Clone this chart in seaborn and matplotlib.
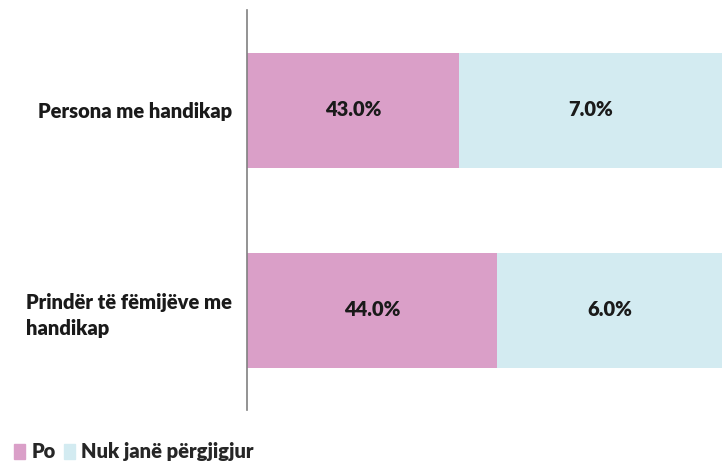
import matplotlib
matplotlib.use("Agg")
import matplotlib.pyplot as plt
from matplotlib.patches import Patch
import pandas as pd
import seaborn as sns

# -----------------------------
# DATA
# -----------------------------
categories = ["Persona me handikap", "Prindër të fëmijëve me\nhandikap"]
po_pct = [43.0, 44.0]          # printed labels
nuk_pct = [7.0, 6.0]
# segment lengths as drawn in the source chart (share of visible axis)
po_bar = [44.6, 52.6]
nuk_bar = [55.4, 47.4]
series_names = ["Po", "Nuk janë përgjigjur"]

PINK = "#DA9FC8"
BLUE = "#D3EBF1"
TXT = "#1a1a1a"
WEIGHT = "heavy"

sns.set_theme(style="white")
plt.rcParams["font.family"] = ["Lato", "DejaVu Sans"]

df = pd.DataFrame({
    "cat": categories,
    "po": po_bar,
    "total": [a + b for a, b in zip(po_bar, nuk_bar)],
})

fig = plt.figure(figsize=(7.22, 4.66), dpi=100)
ax = fig.add_axes([247 / 722, 56 / 466, 1 - 247 / 722, 400 / 466])

sns.barplot(data=df, y="cat", x="total", color=BLUE, orient="h",
            width=0.575, saturation=1, linewidth=0, ax=ax)
sns.barplot(data=df, y="cat", x="po", color=PINK, orient="h",
            width=0.575, saturation=1, linewidth=0, ax=ax)

ax.set_xlim(0, 100)
ax.set_ylim(1.5, -0.5)
ax.set_xlabel("")
ax.set_ylabel("")
ax.set_xticks([])
ax.tick_params(axis="y", length=0, pad=11)
for lbl in ax.get_yticklabels():
    lbl.set_fontsize(14.5)
    lbl.set_fontweight(WEIGHT)
    lbl.set_color(TXT)
    lbl.set_multialignment("left")
    lbl.set_linespacing(1.45)

for s in ["top", "right", "bottom"]:
    ax.spines[s].set_visible(False)
ax.spines["left"].set_color("#808080")
ax.spines["left"].set_linewidth(1.2)

# value labels
for i in range(len(categories)):
    ax.text(po_bar[i] / 2, i, f"{po_pct[i]:.1f}%", ha="center", va="center",
            fontsize=14.5, fontweight=WEIGHT, color=TXT)
    ax.text(po_bar[i] + nuk_bar[i] / 2, i, f"{nuk_pct[i]:.1f}%",
            ha="center", va="center", fontsize=14.5, fontweight=WEIGHT, color=TXT)

handles = [Patch(color=PINK), Patch(color=BLUE)]
fig.legend(handles, series_names, loc="lower left", bbox_to_anchor=(0.0, -0.02),
           ncol=2, frameon=False, handlelength=0.55, handleheight=0.8,
           handletextpad=0.3, columnspacing=0.4, borderaxespad=0.3,
           prop={"weight": WEIGHT, "size": 14.5})

fig.savefig("out.png", dpi=100)
